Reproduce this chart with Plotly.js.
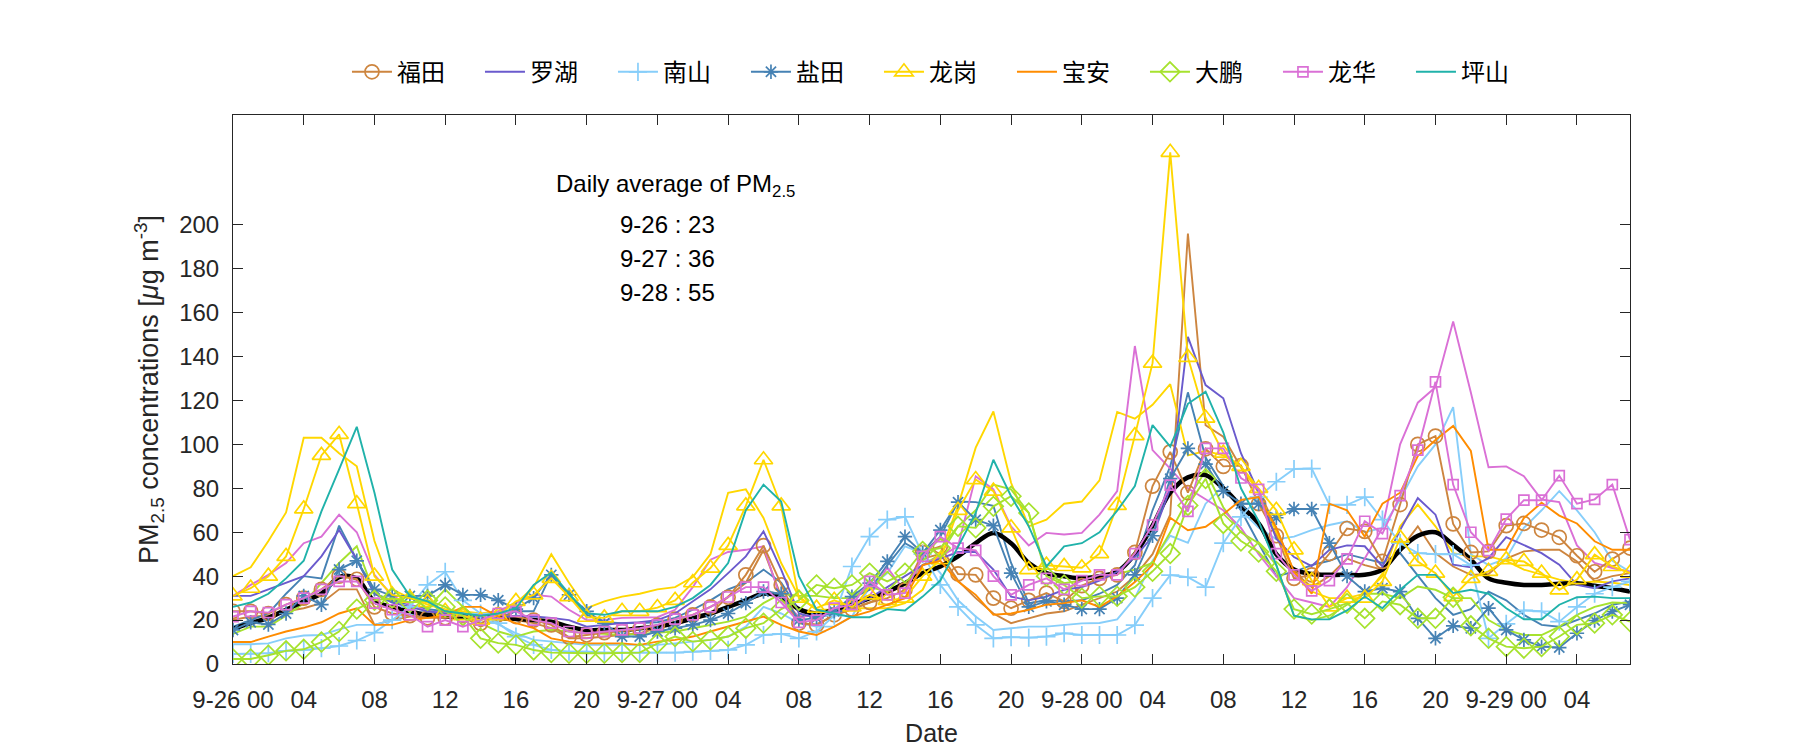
<!DOCTYPE html>
<html>
<head>
<meta charset="utf-8">
<script src="https://cdn.plot.ly/plotly-3.0.1.min.js"></script>
<style>html,body{margin:0;padding:0;background:#fff;}#chart{width:1800px;height:750px;}</style>
</head>
<body>
<div id="chart"></div>
<script>
// Hour index from 9-26 00:00 (hourly records)
const hours = [0,1,2,3,4,5,6,7,8,9,10,11,12,13,14,15,16,17,18,19,20,21,22,23,24,25,26,27,28,29,30,31,32,33,34,35,36,37,38,39,40,41,42,43,44,45,46,47,48,49,50,51,52,53,54,55,56,57,58,59,60,61,62,63,64,65,66,67,68,69,70,71,72,73,74,75,76,77,78,79];
const tickHours = [0,4,8,12,16,20,24,28,32,36,40,44,48,52,56,60,64,68,72,76];
const tickLabels = ['9-26 00','04','08','12','16','20','9-27 00','04','08','12','16','20','9-28 00','04','08','12','16','20','9-29 00','04'];
const yTicks = [0,20,40,60,80,100,120,140,160,180,200];

// 福田
const futian1 = [24,24,23,27,30,34,40,38.6,26,23,22,21,21,22,18.5,22.4,21.6,
 20,17.8,12.2,13.2,14.3,15,15.8,17.7,20.4,22.4,26,30.4,40.6,53.9,36,18.6,
 17.8,22.4,25,28,30,33.8,50.8,53.6,41,40.6,30,25.4,29,32.3,28.5,35.7,
 39,40.6,50.8,81,96.6,78,98,90,90.4,73,58.4,39,40.6,50.3,61.7,60.4,
 46.7,72.6,100,103.8,63.8,50.8,51.3,63,64,61,57.7,49.3,42,47.8,52.8];
const futian2 = [20,21.6,22,24,25.4,27.7,34,34,17.8,20,21.6,21.6,22,21.6,17,20.5,20,
 18.6,16.3,11.7,11.7,12.5,13,14,16.3,18.6,20,23,30.7,37,52,30.7,18.6,
 18,22,25,28,32,36,48,50,38,30,23,18.6,20.8,23,24,27,
 30,33,40,50,68,196,108.7,103.5,89.5,79,62,42,35,40,48,45,
 43,52,62.7,50.5,44.4,40.6,41,48,51.3,52,52,46.7,37.6,40,41.4];
// 罗湖
const luohu = [31,31,34,37,40,49,61,47.5,32,28,26,24,23,22,21,21,22,
 21.6,21,20,17,17.8,18.6,19,20,23,28.5,34,41.4,49,60.4,43,23,
 21,23,26,30,35,40,45,48,51,51,43,30.7,29,30.7,33.8,35,
 38,42,48.7,58,80,149,127,121,96,78,57,48.7,44.6,52,54,53.6,
 44.4,61,75.6,68,45.2,44,48.2,57.8,54.3,50.5,45.2,36,34.5,37.6,39];
// 南山
const nanshan1 = [4.6,4.6,4.9,6,6.4,7.2,8.2,10.7,14.3,20,26,36,42,29,23,18.6,12.5,
 8.7,6.4,5.6,5.6,5.2,5.2,5.2,5.2,5.2,5.6,6,6.4,8.7,13.2,13.7,11.7,
 14.8,22,44.4,58,65.7,67,50,36,26,17.8,11.7,12.2,12,12.5,14,13.2,
 13.2,13.2,17.7,30,40.5,39.5,35,55,67,76,83,88.8,89,72.5,72.5,76,
 65.7,55,50.5,50,50,45,11.7,18.3,24.4,24,19.3,26,32,35,37.6];
const nanshan2 = [9,9,9.4,11.7,13,13.2,15.8,17.8,17.8,20,22.4,24,24,23,21,18,14,
 11,10.2,9.4,8.7,8.7,8.7,8.7,8.7,9.4,10.2,11,12.5,17,26,23,18.6,
 17,17,21.6,35,41.4,53.6,50.5,41.4,29,21.6,15.5,16.3,17,17,17.8,18.5,
 18.7,20.3,30,47,58.4,55.2,73,81,70,62,56.8,58,61,63.3,65,60,
 62,75,90,100,117,50,45,48,62,70,78.7,70,60,47,42];
// 盐田
const yantian1 = [15.5,19,18,23,31,27,43,47,34,31,31,31,36,31.5,31.5,29,25,
 30,40.6,31.5,24,18.6,12.5,12.5,14.8,16.3,17.8,20,23,27.7,33,32,20,
 21,24,30.7,36.8,46.7,58,50.5,61,73.7,65.7,63,41.4,26,28.5,27,25,
 25,30,40.6,58.4,84.4,98.2,91,78.7,73,73,66.6,70.6,70.6,55,40,33,
 34.5,33,20.8,11.7,17.4,16.3,25.4,15.5,11,7.9,7.5,14,19.8,23.9,27];
const yantian2 = [17,20,23,32,40,39,63,47.5,32,29,27,25,24,23,22,21,24,
 24,41,30.7,22.4,19,18.6,18.6,19,21,24.7,29,34,37,43,37,24.7,
 22,24,30,33.8,45,55,50.5,58,74,73.7,72,46,27.7,29,28.5,29,
 32,36,45,70,90,123.7,94,81,70,55,40,42,45,47,50,48,
 46,50.5,40,30,22.4,25,33,29,22.4,17.8,17,20,23,27,28.5];
// 龙岗
const longgang1 = [31,34.5,40,49,70.6,95,104.6,73,40,31.5,30,28,24,22,20,22,28.5,
 31.5,39,30.7,21.3,21,24,24,25.7,29,37,43.7,54,72,93,72,30,
 25.4,29,26,31.5,29,30,40,47.5,70,84,78.7,62,43,45,44.4,43.8,
 50.3,72.2,104,137,233,139.6,112,96,90,80,70,52,38,26,30,30,
 37.6,57.4,46.7,41.4,30.7,39,42.2,47.5,46.7,41.4,33.8,38.4,49.8,44.4,41.4];
const longgang2 = [40,44,56,69,103,103,96,90,56,34,30,27,25,24,23,24,27.7,
 35,50,37,25.4,28.5,30.7,32,34,35,39.6,50,78,79.5,66.5,46,30.7,
 24.7,24.7,25.4,25.4,25.4,27.7,33.8,50.5,72,98.5,115,82.5,62.7,65.7,73,74,
 83.6,114.8,111.7,118,127.4,95,97,95,90,78,60,42,33,30,30,32,
 40,62.7,72.6,62.7,50.5,49,49,47,43,40.6,38.4,36.8,37.6,37,36];
// 宝安
const baoan = [10,10,12.5,14.8,16.6,19,23,25.4,17.8,17.8,20,21,22,26,26,21.6,18.6,
 16.3,11.7,10.2,9.4,9.4,9.4,8.7,10.2,11,12.5,14.8,17,19.3,21.6,17.8,14.8,
 13.2,17,21.6,24,27,30,45,47,37.6,31.5,22.4,23,24.7,27,27.7,29,
 26,30.8,37.3,45,66.6,60.9,62.5,68.2,74.7,76,62,42,32,73,70,58,
 73,78,94.7,102,108.4,97,52,52,66.5,73.4,67.6,64,55.9,52,52];
// 大鹏
const dapeng1 = [2.3,2.3,4,6,6.7,10,14.8,25,29,30,28,29,26,22,11.7,9.5,8.7,
 6.4,5.2,4.9,4.9,4.9,5.2,5.2,9.4,12.5,10.2,11,12.5,16.3,18.6,25,29,
 36,34.5,36,41.4,37.6,41.4,51.3,52.8,62.7,62,71.8,76.4,68.8,40,36,30,
 30.8,30.8,35,42.2,50.3,72.2,84.4,64,56,51,42.2,25,22.7,25,27.6,20.8,
 28.5,27,20.8,20.8,30.4,17.4,11.7,7.9,7.2,7.9,12.5,17.8,18.6,22.4,19.3];
const dapeng2 = [13.7,17,17,22,27.7,37,46,53.6,32,28.5,31,25.4,34,26,18.6,14.8,12.5,
 14.8,15.5,14.8,14,13.7,13.2,13.7,14.3,14.8,16.3,17.8,19.3,21.6,27.7,32,31,
 31,30,30,35,33,36,45,50,62.7,70,81.7,79.5,68.8,41.4,36.8,38,
 40,41,43,46,60,75,88,71.4,60,55,45,22,20,22,27,32,
 32,30,35.3,33.8,30,30,20,15.5,13.2,13.2,17,22.4,26,28,27.7];
// 龙华
const longhua1 = [21.6,24,23.4,27,30,34,37.6,37.6,27.7,24.7,22.4,17,20,17,20,23,24,
 20,18.6,14.8,14,14.8,15.5,16.3,17.8,20.4,22.4,26,30.5,35,35,28,19,
 20,25.4,27,37.6,31.5,32.3,49,58,52.8,51.7,40,31.5,36,39,34,38,
 40.6,40.6,50.3,63.3,81.5,69.5,98.2,98.2,84.7,79.5,50.3,40.6,33.3,38,47.9,65,
 59.4,76.7,97.4,128.5,81.7,60,51.6,66,74.6,74.6,85.8,73,75,81.7,56.6];
const longhua2 = [31,36,40.6,46,55,58,68,60,40.6,31,27,24,23,22,21,24,27.7,
 31.5,30.7,24.7,20,20,21,21.3,21.3,24.7,35,47.5,51,52,53.6,29,21.6,
 22,24,28,31,44,33,45,49,53.6,85.5,79.5,62.7,54,59.7,59,59.7,
 68,78.7,144.8,97.4,89,80,75,70,62,50,40,30,28,26,35,48,
 62,100,119,126,156,123.6,89.6,90,85.5,74.9,73.7,54,46,43.7,42];
// 坪山
const pingshan = [26,28,32,39,47,69.5,88.6,108,78,43,31,28.5,24,23,22,23,25.4,
 36,41.7,32,23,22.4,24,24,24,26,30,36,46,70,81.7,74,40,
 24.7,23,21.3,21.3,25,24.4,30.7,38,53.6,68.8,93,76.4,62.7,44.4,53.6,55,
 60,69.8,81,108.8,99,118.5,124,105.5,80,65,45,22,20.3,20.3,24.4,30.7,
 25.4,33.8,40.6,40.6,32.3,33.8,32,25.4,20.4,20.4,27,30.4,30.7,30,30];
// Mean of all stations (smoothed black curve)
const meanAll = [16,18.6,21,24.7,28.5,32,39.6,39,28.5,26,24,22.4,21.6,21.6,21.3,21,20.5,
 20,19.3,17,15.5,15.5,15.5,16.3,17,18.6,20.8,23,26,29,32,30.7,25,
 23,24.7,27,30,33,36.8,41.4,44.4,49,55,59.7,55,46,41.4,40,39,
 40,42,50,63,78,85,86,80,72,64,50,43,41,40.6,40.6,40.6,
 43,52,58.4,60,54.3,47.5,39,37,36,36,36.5,36.8,35.6,34.5,33];

const dailyDates = ['9-26','9-27','9-28'];
const dailyMeans = [23,36,55];

const C = {
  futian:'#CD853F', luohu:'#6A5ACD', nanshan:'#87CEFA', yantian:'#4682B4',
  longgang:'#FFD700', baoan:'#FF8C00', dapeng:'#A6E22E', longhua:'#DA70D6', pingshan:'#20B2AA'
};
const LW = 1.9;
function plain(y, color, name, show, rank){
  return {x:hours, y:y, type:'scatter', mode:'lines', name:name, showlegend:show, legendrank:rank,
    line:{color:color, width:LW}, hoverinfo:'skip'};
}
function marked(y, color, name, symbol, size, show, rank){
  return {x:hours, y:y, type:'scatter', mode:'lines+markers', name:name, showlegend:show, legendrank:rank,
    line:{color:color, width:LW},
    marker:{symbol:symbol, size:size, color:color, line:{color:color, width:1.7}}, hoverinfo:'skip'};
}

const traces = [
  plain(futian2, C.futian, '福田', false, 100),
  plain(nanshan2, C.nanshan, '南山', false, 100),
  plain(yantian2, C.yantian, '盐田', false, 100),
  plain(longgang2, C.longgang, '龙岗', false, 100),
  plain(dapeng2, C.dapeng, '大鹏', false, 100),
  plain(longhua2, C.longhua, '龙华', false, 100),
  {x:hours, y:meanAll, type:'scatter', mode:'lines', name:'mean', showlegend:false,
   line:{color:'#000000', width:4.5, shape:'spline', smoothing:1}, hoverinfo:'skip'},
  marked(futian1, C.futian, '福田', 'circle-open', 14, true, 1),
  plain(luohu, C.luohu, '罗湖', true, 2),
  marked(nanshan1, C.nanshan, '南山', 'cross-thin-open', 13, true, 3),
  marked(yantian1, C.yantian, '盐田', 'asterisk-open', 12, true, 4),
  marked(longgang1, C.longgang, '龙岗', 'triangle-up-open', 16, true, 5),
  plain(baoan, C.baoan, '宝安', true, 6),
  marked(dapeng1, C.dapeng, '大鹏', 'diamond-open', 15, true, 7),
  marked(longhua1, C.longhua, '龙华', 'square-open', 10, true, 8),
  plain(pingshan, C.pingshan, '坪山', true, 9)
];

const FONT = 'Liberation Sans, Arial, "Noto Sans CJK SC", sans-serif';
const axisCommon = {
  showgrid:false, zeroline:false, showline:true, linecolor:'#262626', linewidth:1,
  mirror:'ticks', ticks:'inside', ticklen:10, tickwidth:1, tickcolor:'#262626',
  tickfont:{family:FONT, size:24, color:'#262626'}
};

const annotations = [
  {xref:'paper', yref:'paper', x:0.317, y:0.871, xanchor:'center', yanchor:'middle', showarrow:false,
   text:'Daily average of PM<sub>2.5</sub>', font:{family:FONT, size:24, color:'#000'}}
];
const annY = [0.801, 0.7395, 0.676];
for (let i = 0; i < dailyDates.length; i++) {
  annotations.push({xref:'paper', yref:'paper', x:0.311, y:annY[i], xanchor:'center', yanchor:'middle',
    showarrow:false, text:dailyDates[i] + ' : ' + dailyMeans[i], font:{family:FONT, size:24, color:'#000'}});
}

const layout = {
  width:1800, height:750,
  margin:{l:233, r:170, t:115, b:86},
  paper_bgcolor:'#ffffff', plot_bgcolor:'#ffffff',
  font:{family:FONT, size:24, color:'#262626'},
  showlegend:true,
  legend:{orientation:'h', x:0.51, xanchor:'center', y:1.078, yanchor:'middle',
    font:{family:'"Noto Sans CJK SC", sans-serif', size:24, color:'#000'},
    bgcolor:'rgba(0,0,0,0)', entrywidth:78, entrywidthmode:'pixels', itemwidth:40, traceorder:'normal'},
  xaxis:Object.assign({}, axisCommon, {range:[0,79], tickmode:'array', tickvals:tickHours, ticktext:tickLabels,
    ticklabelstandoff:14,
    title:{text:'Date', font:{family:FONT, size:25, color:'#262626'}, standoff:12}}),
  yaxis:Object.assign({}, axisCommon, {range:[0,250], tickmode:'array', tickvals:yTicks,
    ticklabelstandoff:8,
    title:{text:'PM<sub>2.5</sub> concentrations [<i>μ</i>g m<sup>-3</sup>]', font:{family:FONT, size:27, color:'#262626'}, standoff:12}}),
  annotations:annotations
};

Plotly.newPlot('chart', traces, layout, {displayModeBar:false, staticPlot:true});
</script>
</body>
</html>
